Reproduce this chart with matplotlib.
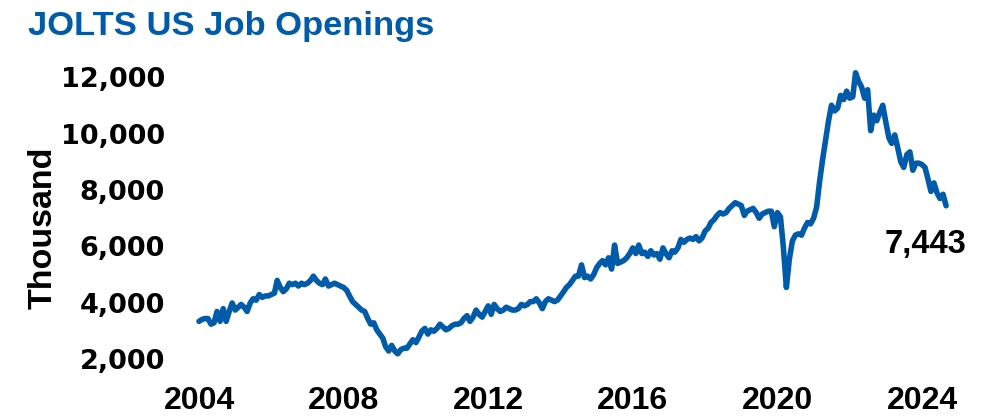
import numpy as np
import pandas as pd
import matplotlib
matplotlib.use("Agg")
import matplotlib.pyplot as plt

# ---------------- data (thousands, monthly, Jan 2004 - Sep 2024) ----------------
title = "JOLTS US Job Openings"
y_label = "Thousand"
start_month = "2004-01-01"

y2004 = [3350, 3420, 3450, 3450, 3250, 3300, 3700, 3350, 3800, 3350, 3700, 4000]
y2005 = [3750, 3850, 3950, 3850, 3700, 4000, 4150, 4100, 4300, 4200, 4250, 4250]
y2006 = [4300, 4350, 4800, 4550, 4400, 4500, 4700, 4650, 4700, 4600, 4700, 4650]
y2007 = [4700, 4800, 4950, 4800, 4700, 4650, 4850, 4600, 4650, 4700, 4650, 4600]
y2008 = [4550, 4450, 4250, 4050, 3950, 3850, 3750, 3700, 3450, 3250, 3300, 3050]
y2009 = [2900, 2750, 2450, 2300, 2500, 2300, 2200, 2350, 2400, 2400, 2550, 2700]
y2010 = [2600, 2800, 3000, 3100, 2900, 3050, 3000, 3100, 3250, 3150, 3050, 3100]
y2011 = [3200, 3250, 3250, 3300, 3450, 3550, 3350, 3500, 3750, 3600, 3500, 3700]
y2012 = [3900, 3600, 3950, 3800, 3700, 3750, 3850, 3800, 3750, 3750, 3800, 3950]
y2013 = [3900, 3950, 4050, 4050, 4150, 4000, 3800, 4050, 4150, 4100, 4050, 4100]
y2014 = [4250, 4400, 4550, 4650, 4800, 4950, 4950, 5350, 4900, 4950, 4850, 5000]
y2015 = [5250, 5400, 5500, 5350, 5600, 5200, 6050, 5400, 5450, 5500, 5600, 5750]
y2016 = [5950, 5750, 6050, 5750, 5800, 5650, 5850, 5700, 5750, 5550, 5950, 5750]
y2017 = [5600, 5850, 5800, 5950, 6250, 6150, 6250, 6300, 6250, 6350, 6200, 6300]
y2018 = [6550, 6650, 6850, 6950, 7100, 7200, 7150, 7200, 7350, 7450, 7550, 7500]
y2019 = [7450, 7100, 7250, 7300, 7350, 7200, 7000, 7150, 7200, 7250, 7250, 6700]
y2020 = [7200, 7050, 6000, 4550, 5550, 6200, 6400, 6450, 6400, 6650, 6850, 6800]
y2021 = [7000, 7400, 8250, 9050, 9750, 10450, 11000, 10800, 10900, 11350, 11200, 11500]
y2022 = [11250, 11300, 12150, 11850, 11650, 11250, 11550, 10100, 10650, 10450, 10750, 11000]
y2023 = [10400, 9850, 9650, 9950, 9500, 9000, 8800, 9250, 9350, 8700, 8950, 8950]
y2024 = [8900, 8800, 8400, 7950, 8250, 7900, 7700, 7850, 7443]

openings = (y2004 + y2005 + y2006 + y2007 + y2008 + y2009 + y2010 + y2011 + y2012
            + y2013 + y2014 + y2015 + y2016 + y2017 + y2018 + y2019 + y2020
            + y2021 + y2022 + y2023 + y2024)

y_ticks = [2000, 4000, 6000, 8000, 10000, 12000]
x_tick_years = [2004, 2008, 2012, 2016, 2020, 2024]

# ---------------- styling ----------------
BLUE = "#005BAA"
SANS = ["Liberation Sans", "DejaVu Sans"]

dates = pd.date_range(start_month, periods=len(openings), freq="MS")

W, H = 989, 417
fig = plt.figure(figsize=(W / 100, H / 100), dpi=100)
ax = fig.add_axes([190 / W, 1 - 370 / H, 775 / W, 315 / H])

ax.plot(dates, openings, color=BLUE, lw=4.0,
        solid_joinstyle="round", solid_capstyle="round")

ax.set_xlim(pd.Timestamp("2003-10-02"), pd.Timestamp("2025-03-11"))
ax.set_ylim(1628, 12779)

ax.set_yticks(y_ticks)
ax.set_yticklabels([f"{v:,}" for v in y_ticks], fontfamily="DejaVu Sans",
                   fontweight="bold", fontsize=19.5)
ax.set_xticks([pd.Timestamp(f"{y}-01-01") for y in x_tick_years])
ax.set_xticklabels([str(y) for y in x_tick_years], fontfamily=SANS,
                   fontweight="bold", fontsize=23)
ax.tick_params(axis="both", length=0)
ax.tick_params(axis="x", pad=11.5)
ax.tick_params(axis="y", pad=18)
for s in ax.spines.values():
    s.set_visible(False)

# title and axis label
fig.text(28 / W, 1 - 35 / H, title, color=BLUE, fontsize=24.8,
         fontweight="bold", family=SANS, ha="left", va="baseline")
fig.text(52 / W, 1 - 227.5 / H, y_label, rotation=90, rotation_mode="anchor",
         fontsize=24.5, fontweight="bold", family=SANS,
         ha="center", va="baseline")

# last value annotation
ax.annotate(f"{openings[-1]:,}", xy=(dates[-1], openings[-1]),
            xytext=(-14.5, -34.3), textcoords="offset points",
            ha="center", va="baseline", fontsize=23.6, fontweight="bold",
            family=SANS, color="black")

fig.savefig("out.png", dpi=100)
